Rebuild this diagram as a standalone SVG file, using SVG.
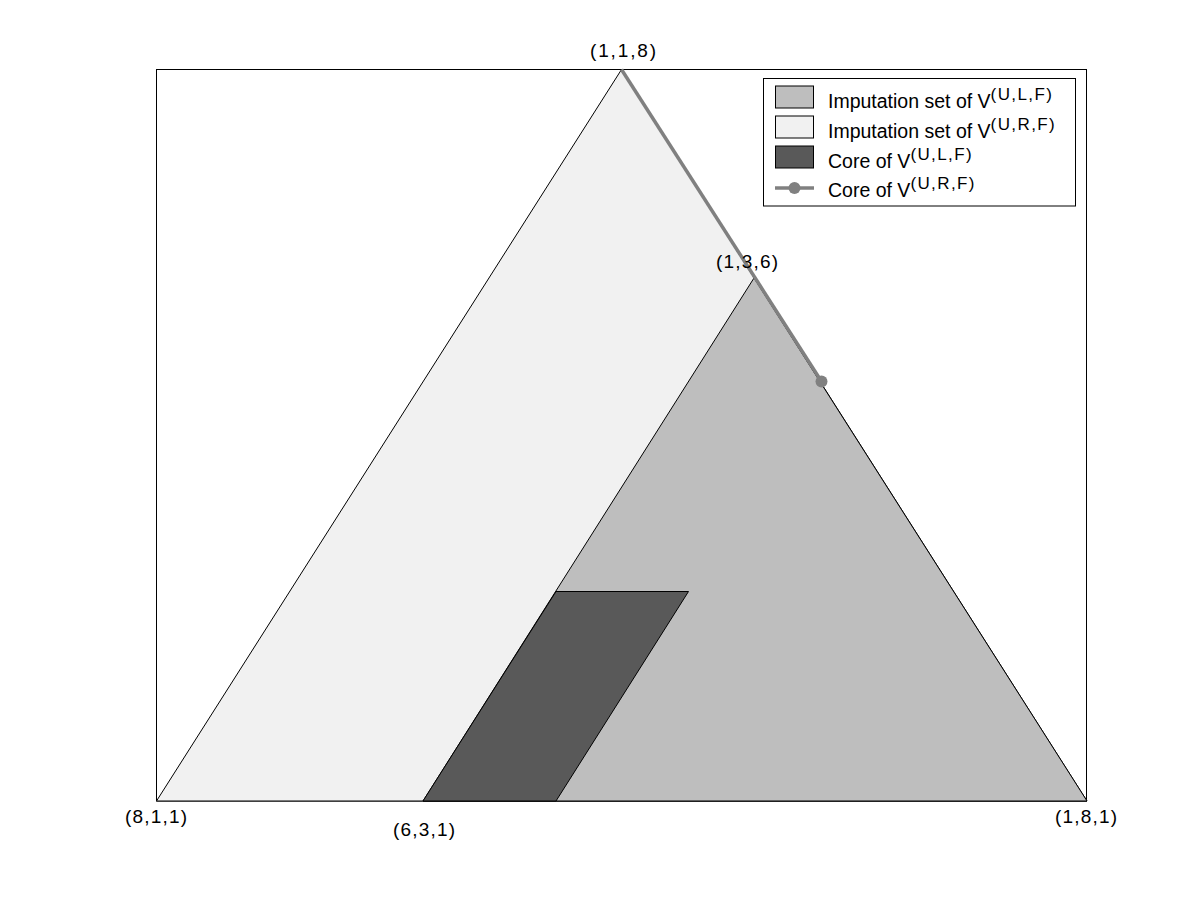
<svg xmlns="http://www.w3.org/2000/svg" width="1201" height="900" viewBox="0 0 1201 900">
<style>
.lbl{font-family:"Liberation Sans",Arial,sans-serif;font-size:19px;fill:#000}
.leg{font-family:"Liberation Sans",Arial,sans-serif;font-size:19.5px;fill:#000}
.sup{font-size:17px;letter-spacing:1.4px}
.edge{stroke:#000;stroke-width:1;fill:none}
</style>
<rect x="0" y="0" width="1201" height="900" fill="#fff"/>
<g id="axes">
<rect x="156.5" y="69.5" width="930" height="731.5" fill="#fff" stroke="#000" stroke-width="1"/>
</g>
<g id="imputation-urf">
<polygon points="156.5,801 621.5,69.5 1087,801" fill="#f1f1f1" stroke="#000" stroke-width="1"/>
</g>
<g id="imputation-ulf">
<polygon points="754,278 423,801 1087,801" fill="#bebebe" stroke="#000" stroke-width="1"/>
</g>
<g id="core-ulf">
<polygon points="556,591.5 688.5,591.5 556,801 423,801" fill="#595959" stroke="#000" stroke-width="1"/>
</g>
<g id="connectors">
<line x1="621.5" y1="69.5" x2="821.5" y2="381.5" stroke="#808080" stroke-width="3.5"/>
<circle cx="821.5" cy="381.5" r="6" fill="#808080"/>
</g>
<g id="labels">
<text class="lbl" x="590" y="57" textLength="66" lengthAdjust="spacing">(1,1,8)</text>
<text class="lbl" x="716" y="268" textLength="62" lengthAdjust="spacing">(1,3,6)</text>
<text class="lbl" x="125" y="823" textLength="62" lengthAdjust="spacing">(8,1,1)</text>
<text class="lbl" x="1055" y="823" textLength="62" lengthAdjust="spacing">(1,8,1)</text>
<text class="lbl" x="393" y="836" textLength="62" lengthAdjust="spacing">(6,3,1)</text>
</g>
<g id="legend">
<rect x="763.5" y="78.5" width="312" height="127.5" fill="#fff" stroke="#000" stroke-width="1"/>
<rect x="775.5" y="86" width="38" height="22" fill="#bebebe" stroke="#000" stroke-width="1"/>
<rect x="775.5" y="116" width="38" height="22" fill="#f1f1f1" stroke="#000" stroke-width="1"/>
<rect x="775.5" y="146" width="38" height="22" fill="#595959" stroke="#000" stroke-width="1"/>
<line x1="775" y1="188" x2="814" y2="188" stroke="#808080" stroke-width="3.5"/>
<circle cx="794.5" cy="188" r="6" fill="#808080"/>
<text class="leg" x="828" y="108">Imputation set of V<tspan class="sup" dy="-8">(U,L,F)</tspan></text>
<text class="leg" x="828" y="138">Imputation set of V<tspan class="sup" dy="-8">(U,R,F)</tspan></text>
<text class="leg" x="828" y="168">Core of V<tspan class="sup" dy="-8">(U,L,F)</tspan></text>
<text class="leg" x="828" y="197">Core of V<tspan class="sup" dy="-8">(U,R,F)</tspan></text>
</g>
</svg>
